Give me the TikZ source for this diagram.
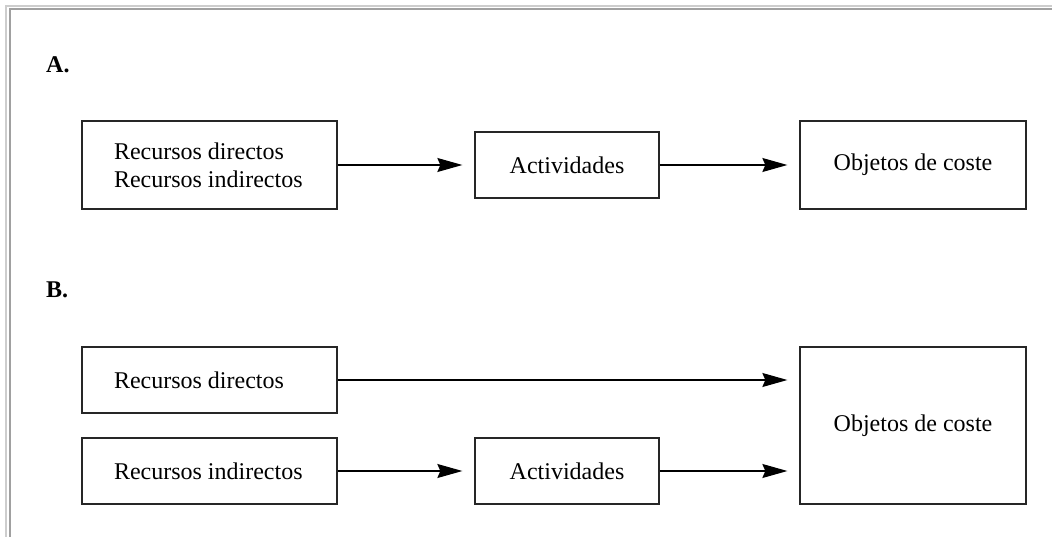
\documentclass[tikz,border=0pt]{standalone}
\usepackage{fontspec}
\setmainfont{Liberation Serif}
\usetikzlibrary{arrows.meta}
\definecolor{frameout}{RGB}{205,205,205}
\definecolor{framein}{RGB}{160,160,160}
\begin{document}
\begin{tikzpicture}[x=1pt,y=-1pt,
  box/.style={draw=black!85, line width=1.3pt, inner sep=0pt, font=\fontsize{24}{28}\selectfont},
  resbox/.style={box, inner xsep=32pt, text width=191pt, align=flush left},
  arr/.style={line width=1.2pt, -{Stealth[length=25pt,width=14pt,inset=3pt]}},
  lbl/.style={font=\fontsize{24}{28}\selectfont\bfseries, anchor=west, inner sep=0pt}]
\useasboundingbox (0,0) rectangle (1052,537);
\draw[line width=2pt, frameout] (6,537) -- (6,6) -- (1052,6);
\draw[line width=2pt, framein] (9.5,537) -- (9.5,9.5) -- (1052,9.5);

\node[lbl] (la) at (46,65) {A.};
\node[lbl] (lb) at (46,290) {B.};

% Row A
\node[resbox, minimum height=88pt] (ra) at (209.5,165) {Recursos directos\\Recursos indirectos};
\node[box, minimum width=184pt, minimum height=66pt] (aa) at (567,165) {Actividades};
\node[box, minimum width=226pt, minimum height=88pt] (oa) at (913,165) {Objetos de coste};
\draw[arr] (ra.east) -- ([xshift=-12pt]aa.west);
\draw[arr] (aa.east) -- ([xshift=-12pt]oa.west);

% Row B
\node[resbox, minimum height=66pt] (rd) at (209.5,380) {Recursos directos};
\node[resbox, minimum height=66pt] (ri) at (209.5,471) {Recursos indirectos};
\node[box, minimum width=184pt, minimum height=66pt] (ab) at (567,471) {Actividades};
\node[box, minimum width=226pt, minimum height=157pt] (ob) at (913,425.5) {Objetos de coste};
\coordinate (tipd) at ([xshift=-12pt]ob.west |- rd.east);
\coordinate (tipa) at ([xshift=-12pt]ob.west |- ab.east);
\draw[arr] (rd.east) -- (tipd);
\draw[arr] (ri.east) -- ([xshift=-12pt]ab.west);
\draw[arr] (ab.east) -- (tipa);
\end{tikzpicture}
\end{document}
